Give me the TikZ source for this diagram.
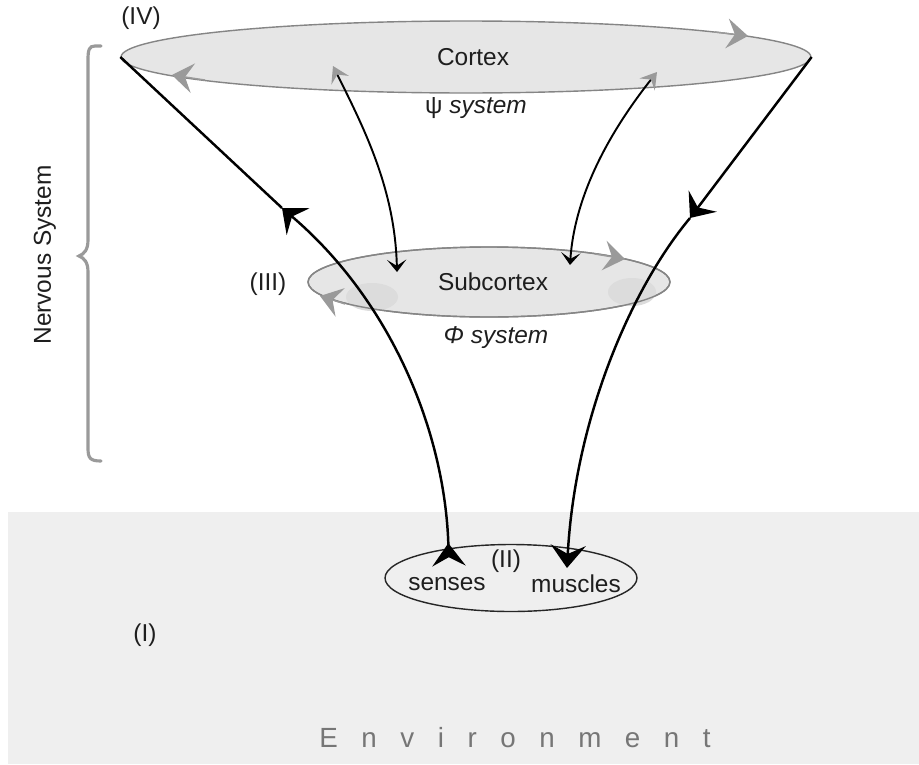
\documentclass[tikz,border=0pt]{standalone}
\usepackage{fontspec}
\setmainfont{Liberation Sans}
\usetikzlibrary{arrows.meta,shapes.geometric}
\definecolor{envbg}{HTML}{EFEFEF}
\definecolor{ellfill}{HTML}{E6E6E6}
\definecolor{ellline}{HTML}{858585}
\definecolor{blobc}{HTML}{DCDCDC}
\definecolor{gtip}{HTML}{9A9A9A}
\definecolor{txt}{HTML}{1E1E1E}
\definecolor{envtxt}{HTML}{767676}
\begin{document}
\begin{tikzpicture}[x=0.02cm,y=-0.02cm,
  lbl/.style={font=\fontsize{13.9}{16}\selectfont, text=txt, inner sep=0pt},
  ell/.style={ellipse, draw=ellline, fill=ellfill, line width=0.8pt, inner sep=0pt, font=\fontsize{13.9}{16}\selectfont, text=txt},
  funnel/.style={line width=1.4pt, black},
  inner/.style={line width=1.1pt, black},
  bigtip/.style={-{Stealth[length=12pt,width=20pt,inset=4.5pt]}},
  graytip/.style={draw=gtip, line width=0.8pt, -{Stealth[length=12pt,width=17pt,inset=4.5pt,color=gtip]}}
]
\useasboundingbox (0,0) rectangle (919,764);
% environment
\fill[envbg] (8,512) rectangle (919,764);

% ellipses
\node[ell, minimum width=13.8cm, minimum height=1.44cm] (cortex) at (466,57) {};
\node[lbl] (cortextxt) at (473,57) {Cortex};
\node[ell, minimum width=7.24cm, minimum height=1.4cm] (sub) at (489,282) {};
\fill[blobc] (372,297) ellipse [x radius=26, y radius=14];
\fill[blobc] (632,292) ellipse [x radius=24, y radius=14];
\draw[ellline, line width=0.8pt] (489,282) ellipse [x radius=181, y radius=35];
\node[lbl] (subtxt) at (493,282) {Subcortex};
\node[ellipse, draw=black!85, line width=0.8pt, minimum width=5.04cm, minimum height=1.34cm, inner sep=0pt] (io) at (511,578) {};

% labels
\node[lbl] (iv) at (141,18) {(IV)};
\node[lbl] (iii) at (268,284) {(III)};
\node[lbl] (ii) at (506,561) {(II)};
\node[lbl] (i) at (145,635) {(I)};
\node[lbl] (senses) at (447,584) {senses};
\node[lbl] (muscles) at (576,584) {muscles};
\node[lbl] (psi) at (476,108) {ψ \itshape system};
\node[lbl] (phi) at (496,338) {\itshape Φ system};
\node[lbl, rotate=90] (ns) at (45,255) {Nervous System};
\node[lbl, text=envtxt, font=\fontsize{15.8}{18}\selectfont] (env) at (515,738) {\spaceskip=13.4pt E n v i r o n m e n t};

% brace
\draw[gtip, line width=1.8pt, line cap=round]
  (101,46) -- (95,46) .. controls (89,46) and (88,50) .. (88,60) -- (88,240)
  .. controls (88,250) and (84,254) .. (79,256)
  .. controls (84,258) and (88,262) .. (88,272) -- (88,448)
  .. controls (88,458) and (90,461) .. (101,461);

% funnel coordinates
\coordinate (sIn) at (449,566);
\coordinate (m1) at (282,208);
\coordinate (m2) at (690,218);
\coordinate (mOut) at (567,568);

% left (afferent) line: senses -> cortex
\draw[funnel, {Stealth[length=13pt,width=19pt,inset=5pt,reversed]}-{Stealth[length=12pt,width=20pt,inset=4.5pt]}]
  (sIn) .. controls (445,430) and (390,300) .. (m1);
\draw[funnel] (m1) -- (cortex.west);

% right (efferent) line: cortex -> muscles
\draw[funnel, bigtip] (cortex.east) -- (m2);
\draw[funnel, -{Stealth[length=13pt,width=20pt,inset=5pt]}]
  (m2) .. controls (630,290) and (575,420) .. (mOut);

% inner cortex-subcortex arrows
\coordinate (a1) at (333,66);
\coordinate (b1) at (397,272);
\coordinate (a2) at (657,72);
\coordinate (b2) at (570,265);
\draw[inner, {Stealth[length=9pt,width=11pt,inset=3.5pt,color=gtip]}-{Stealth[length=7pt,width=11pt,inset=3.5pt]}]
  (a1) .. controls (365,130) and (395,190) .. (b1);
\draw[inner, {Stealth[length=9pt,width=11pt,inset=3.5pt,color=gtip]}-{Stealth[length=7pt,width=11pt,inset=3.5pt]}]
  (a2) .. controls (615,125) and (575,190) .. (b2);

% gray circulation arrows on ellipses
\draw[graytip] (715,32) -- (748,36);
\draw[graytip] (205,80) -- (172,75);
\draw[graytip] (595,254) -- (625,259);
\draw[graytip] (345,304) -- (320,296);
\end{tikzpicture}
\end{document}
